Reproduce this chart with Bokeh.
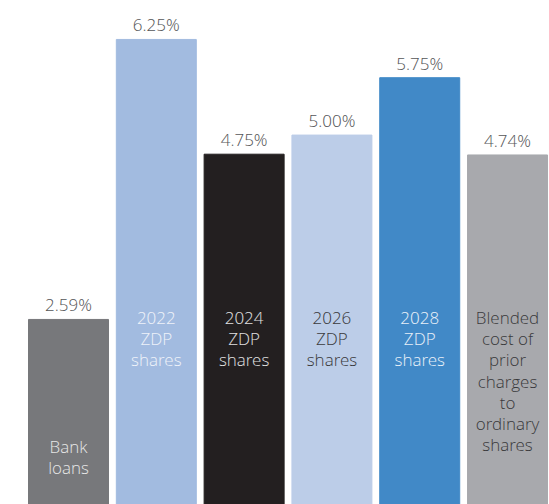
from bokeh.plotting import figure
from bokeh.models import Range1d, ColumnDataSource
from bokeh.core.properties import value
from bokeh.embed import file_html
from bokeh.resources import INLINE

categories = ["Bank\nloans", "2022\nZDP\nshares", "2024\nZDP\nshares", "2026\nZDP\nshares",
              "2028\nZDP\nshares", "Blended\ncost of\nprior\ncharges\nto\nordinary\nshares"]
rates = [2.59, 6.25, 4.75, 5.00, 5.75, 4.74]
value_labels = ["2.59%", "6.25%", "4.75%", "5.00%", "5.75%", "4.74%"]
bar_colors = ["#77787b", "#a2bbe0", "#231f20", "#bccde8", "#4189c7", "#a8a9ad"]
label_colors = ["#e6e6e6", "#eef2f9", "#e0e0e0", "#3a3a3c", "#e8f0f8", "#3a3a3c"]

xs = list(range(len(rates)))
FONT = value("'Open Sans Light', 'Open Sans'")

src = ColumnDataSource(dict(x=xs, top=rates, vl=value_labels, color=bar_colors,
                            cat=categories, lc=label_colors))

p = figure(width=549, height=504, output_backend="svg", toolbar_location=None,
           x_range=Range1d(-0.7745, 5.478), y_range=Range1d(0.171, 6.759),
           min_border=0, outline_line_color=None)
p.axis.visible = False
p.grid.visible = False

p.vbar(x="x", top="top", bottom=0, width=0.911, color="color", source=src)

p.text(x="x", y="top", text="vl", source=src, text_align="center", text_baseline="bottom",
       y_offset=-3, text_font=FONT, text_font_size="17px", text_color="#555658")

# in-bar labels
src_top = ColumnDataSource(dict(x=xs[1:], cat=categories[1:], lc=label_colors[1:]))
p.text(x="x", y=2.765, text="cat", source=src_top, text_align="center", text_baseline="top",
       text_font=FONT, text_font_size="17px", text_color="lc", text_line_height=0.92)

src_bot = ColumnDataSource(dict(x=xs[:1], cat=categories[:1], lc=label_colors[:1]))
p.text(x="x", y=1.08, text="cat", source=src_bot, text_align="center", text_baseline="top",
       text_font=FONT, text_font_size="17px", text_color="lc", text_line_height=0.92)

open("out.html", "w").write(file_html(p, INLINE))
